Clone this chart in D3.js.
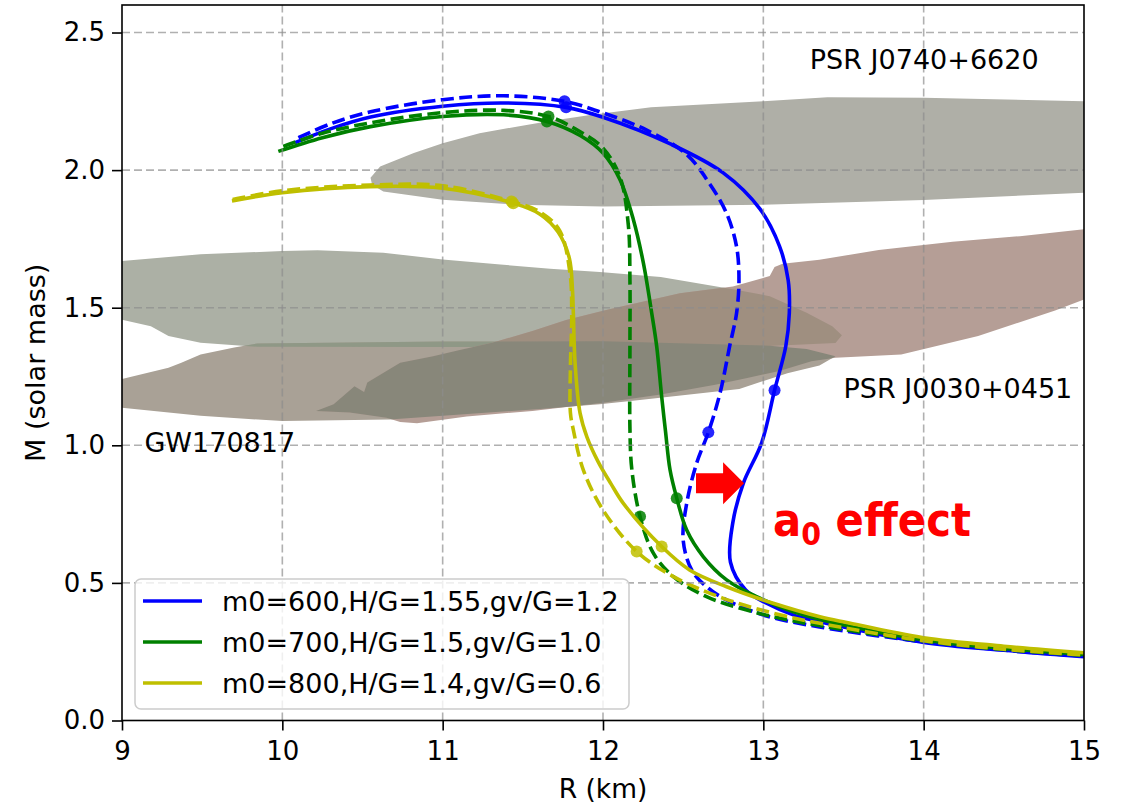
<!DOCTYPE html>
<html>
<head>
<meta charset="utf-8">
<script src="https://cdn.jsdelivr.net/npm/d3@7"></script>
<style>
  body { margin: 0; background: #fff; }
  text { font-family: "DejaVu Sans", sans-serif; }
</style>
</head>
<body>
<svg id="chart" width="1124" height="806"></svg>
<script>
const W = 1124, H = 806;
const margin = {left: 122, right: 40, top: 5, bottom: 85.5};

const xTicks = [9, 10, 11, 12, 13, 14, 15];
const yTicks = [0.0, 0.5, 1.0, 1.5, 2.0, 2.5];

// M-R curves, [R km, M solar mass]
const blueSolid = [[10.08,2.100],[10.30,2.150],[10.55,2.193],[11.00,2.232],[11.38,2.244],[11.77,2.228],[12.00,2.192],[12.42,2.095],[12.75,1.990],[12.98,1.858],[13.10,1.725],[13.155,1.600],[13.162,1.480],[13.14,1.360],[13.07,1.200],[12.99,1.010],[12.875,0.862],[12.81,0.720],[12.795,0.575],[12.89,0.474],[13.02,0.426],[13.19,0.383],[13.50,0.340],[14.00,0.284],[14.50,0.255],[15.00,0.232]];
const blueDashed = [[10.10,2.118],[10.30,2.168],[10.55,2.212],[11.00,2.256],[11.38,2.270],[11.76,2.250],[12.00,2.208],[12.27,2.146],[12.52,2.058],[12.66,1.955],[12.77,1.844],[12.833,1.722],[12.848,1.600],[12.833,1.480],[12.79,1.360],[12.73,1.190],[12.657,1.047],[12.584,0.935],[12.522,0.789],[12.50,0.656],[12.553,0.547],[12.646,0.486],[12.77,0.438],[13.02,0.380],[13.35,0.340],[14.00,0.286],[14.50,0.256],[15.00,0.234]];
const greenSolid = [[9.975,2.068],[10.25,2.118],[10.55,2.158],[11.00,2.195],[11.38,2.201],[11.65,2.177],[11.86,2.125],[12.00,2.062],[12.106,1.965],[12.19,1.819],[12.252,1.662],[12.304,1.480],[12.335,1.359],[12.366,1.177],[12.39,1.050],[12.418,0.911],[12.46,0.808],[12.522,0.692],[12.626,0.595],[12.771,0.511],[12.958,0.450],[13.188,0.395],[13.50,0.347],[14.00,0.293],[14.50,0.262],[15.00,0.240]];
const greenDashed = [[10.006,2.086],[10.25,2.134],[10.55,2.172],[11.00,2.209],[11.38,2.217],[11.66,2.195],[11.85,2.142],[12.00,2.080],[12.106,1.975],[12.158,1.800],[12.168,1.600],[12.168,1.360],[12.168,1.060],[12.18,0.911],[12.231,0.741],[12.314,0.608],[12.439,0.523],[12.646,0.450],[12.937,0.395],[13.27,0.353],[14.00,0.289],[14.50,0.258],[15.00,0.237]];
const yellowSolid = [[9.686,1.888],[10.00,1.918],[10.547,1.940],[11.00,1.934],[11.44,1.880],[11.607,1.840],[11.72,1.775],[11.79,1.680],[11.81,1.560],[11.815,1.480],[11.826,1.298],[11.857,1.117],[11.90,1.030],[11.97,0.940],[12.05,0.860],[12.127,0.789],[12.366,0.632],[12.54,0.547],[12.771,0.486],[13.062,0.426],[13.353,0.377],[13.52,0.356],[14.00,0.301],[14.50,0.270],[15.00,0.246]];
const yellowDashed = [[9.69,1.893],[10.00,1.925],[10.547,1.946],[11.00,1.943],[11.43,1.886],[11.607,1.848],[11.73,1.780],[11.794,1.626],[11.805,1.480],[11.797,1.286],[11.797,1.117],[11.815,1.056],[11.877,0.911],[12.00,0.765],[12.21,0.614],[12.439,0.523],[12.75,0.444],[13.062,0.390],[13.353,0.353],[14.00,0.290],[14.50,0.259],[15.00,0.238]];

// marked points on each curve
const blueSolidDots = [[11.77,2.228],[13.07,1.200]];
const blueDashedDots = [[11.76,2.250],[12.657,1.047]];
const greenSolidDots = [[11.65,2.177],[12.46,0.808]];
const greenDashedDots = [[11.66,2.195],[12.231,0.741]];
const yellowSolidDots = [[11.44,1.880],[12.366,0.632]];
const yellowDashedDots = [[11.43,1.886],[12.21,0.614]];

const legendLabels = ["m0=600,H/G=1.55,gv/G=1.2", "m0=700,H/G=1.5,gv/G=1.0", "m0=800,H/G=1.4,gv/G=0.6"];
const legendColors = ["#0000ff", "#008000", "#bfbf00"];

// observational constraint regions
const j0740 = [[10.55,1.972],[10.61,2.013],[10.82,2.062],[11.0,2.098],[11.23,2.134],[11.46,2.158],[11.65,2.177],[11.92,2.200],[12.3,2.228],[13.0,2.250],[13.4,2.265],[14.0,2.263],[15.0,2.250],[15.3,2.245],[15.3,1.925],[15.0,1.918],[14.0,1.891],[13.0,1.874],[12.0,1.868],[11.46,1.874],[11.0,1.892],[10.63,1.922],[10.56,1.947]];
const gwUpper = [[8.8,1.66],[9.0,1.67],[9.49,1.694],[10.0,1.706],[10.22,1.709],[10.63,1.700],[11.0,1.675],[11.36,1.657],[11.67,1.642],[11.98,1.630],[12.36,1.612],[12.81,1.567],[13.04,1.542],[13.27,1.482],[13.43,1.433],[13.49,1.400],[13.45,1.372],[13.0,1.360],[12.0,1.357],[11.0,1.357],[9.845,1.358],[9.49,1.373],[9.29,1.397],[9.18,1.433],[8.99,1.458],[8.8,1.47]];
const gwLower = [[8.8,1.22],[8.99,1.24],[9.29,1.282],[9.37,1.30],[9.49,1.33],[9.70,1.355],[9.845,1.370],[11.0,1.377],[12.0,1.378],[13.04,1.362],[13.27,1.350],[13.45,1.324],[13.35,1.290],[13.15,1.262],[12.85,1.205],[12.23,1.165],[11.98,1.149],[11.607,1.132],[11.0,1.107],[10.67,1.094],[10.0,1.088],[9.49,1.107],[8.99,1.137],[8.8,1.14]];
const j0030 = [[10.21,1.125],[10.32,1.149],[10.45,1.215],[10.51,1.194],[10.53,1.228],[10.735,1.300],[10.94,1.324],[11.1,1.345],[11.31,1.373],[11.56,1.415],[11.77,1.455],[12.02,1.492],[12.48,1.553],[12.81,1.577],[13.04,1.615],[13.07,1.648],[13.12,1.660],[13.35,1.674],[13.72,1.710],[14.18,1.740],[14.6,1.760],[15.0,1.785],[15.3,1.80],[15.3,1.52],[15.0,1.530],[14.82,1.490],[14.34,1.397],[13.86,1.330],[13.45,1.318],[13.3,1.305],[13.1,1.270],[12.9,1.245],[12.7,1.220],[12.36,1.185],[12.0,1.155],[11.56,1.125],[11.15,1.105],[10.84,1.080],[10.735,1.085],[10.65,1.100],[10.42,1.119]];

const textLabels = [
  {text: "PSR J0740+6620", at: [13.29, 2.367]},
  {text: "PSR J0030+0451", at: [13.50, 1.173]},
  {text: "GW170817", at: [9.14, 0.976]}
];
const effectAt = [13.06, 0.670];
const arrowFrom = [12.58, 0.862], arrowTo = [12.88, 0.862];

const svg = d3.select("#chart");
const x = d3.scaleLinear().domain([9, 15]).range([margin.left, W - margin.right]);
const y = d3.scaleLinear().domain([0, 2.6]).range([H - margin.bottom, margin.top]);

const defs = svg.append("defs");
defs.append("clipPath").attr("id", "plot").append("rect")
  .attr("x", x(9)).attr("y", y(2.6)).attr("width", x(15) - x(9)).attr("height", y(0) - y(2.6));

const poly = d3.line().x(d => x(d[0])).y(d => y(d[1]));
const polyPath = d => poly(d) + "Z";

["gwUpperClip", "gwLowerClip"].forEach((id, i) => {
  defs.append("clipPath").attr("id", id).append("path").attr("d", polyPath(i ? gwLower : gwUpper));
});

const plot = svg.append("g").attr("clip-path", "url(#plot)");

// regions
plot.append("path").attr("d", polyPath(j0740)).attr("fill", "#afafa7");
plot.append("path").attr("d", polyPath(gwUpper)).attr("fill", "#acb0a5");
plot.append("path").attr("d", polyPath(gwLower)).attr("fill", "#a9a196");
plot.append("g").attr("clip-path", "url(#gwUpperClip)")
  .append("path").attr("d", polyPath(gwLower)).attr("fill", "#8f9886");
plot.append("path").attr("d", polyPath(j0030)).attr("fill", "#b59e96");
plot.append("g").attr("clip-path", "url(#gwUpperClip)")
  .append("path").attr("d", polyPath(j0030)).attr("fill", "#9f8f80");
plot.append("g").attr("clip-path", "url(#gwLowerClip)")
  .append("path").attr("d", polyPath(j0030)).attr("fill", "#88877a");

// grid
const grid = svg.append("g").attr("stroke", "#8c8c8c").attr("stroke-opacity", 0.69)
  .attr("stroke-width", 1.6).attr("stroke-dasharray", "8,4");
grid.selectAll(".gx").data(xTicks.slice(1, -1)).enter().append("line")
  .attr("x1", d => x(d)).attr("x2", d => x(d)).attr("y1", y(0)).attr("y2", y(2.6));
grid.selectAll(".gy").data(yTicks.slice(1)).enter().append("line")
  .attr("x1", x(9)).attr("x2", x(15)).attr("y1", d => y(d)).attr("y2", d => y(d));

// curves
const series = [
  {pts: blueSolid, dots: blueSolidDots, color: legendColors[0], dash: null},
  {pts: blueDashed, dots: blueDashedDots, color: legendColors[0], dash: "13,5.5"},
  {pts: greenSolid, dots: greenSolidDots, color: legendColors[1], dash: null},
  {pts: greenDashed, dots: greenDashedDots, color: legendColors[1], dash: "13,5.5"},
  {pts: yellowSolid, dots: yellowSolidDots, color: legendColors[2], dash: null},
  {pts: yellowDashed, dots: yellowDashedDots, color: legendColors[2], dash: "13,5.5"}
];
const curve = d3.line().x(d => x(d[0])).y(d => y(d[1])).curve(d3.curveCatmullRom.alpha(0.5));
series.forEach(s => {
  plot.append("path").attr("d", curve(s.pts)).attr("fill", "none")
    .attr("stroke", s.color).attr("stroke-width", 3.6)
    .attr("stroke-dasharray", s.dash);
  plot.selectAll(null).data(s.dots).enter().append("circle")
    .attr("cx", d => x(d[0])).attr("cy", d => y(d[1])).attr("r", 6)
    .attr("fill", s.color).attr("fill-opacity", 0.85);
});

// arrow
{
  const x0 = x(arrowFrom[0]), x1 = x(arrowTo[0]), yc = y(arrowFrom[1]);
  const hl = 21, hw = 21, tw = 10;
  plot.append("path")
    .attr("d", `M${x0},${yc - tw}L${x1 - hl},${yc - tw}L${x1 - hl},${yc - hw}L${x1},${yc}L${x1 - hl},${yc + hw}L${x1 - hl},${yc + tw}L${x0},${yc + tw}Z`)
    .attr("fill", "#ff0000");
}

// text labels
svg.selectAll(".lab").data(textLabels).enter().append("text")
  .attr("x", d => x(d.at[0])).attr("y", d => y(d.at[1]))
  .attr("font-size", 27).attr("fill", "#000").text(d => d.text);

// a0 effect, squeezed a little to get the narrow bold look
const eff = svg.append("text")
  .attr("transform", `translate(${x(effectAt[0])},${y(effectAt[1])}) scale(0.89,1)`)
  .attr("font-family", "'Noto Sans', sans-serif").attr("font-weight", "bold")
  .attr("font-size", 47).attr("fill", "#ff0000");
eff.append("tspan").text("a");
eff.append("tspan").attr("font-size", 32).attr("dy", 9).text("0");
eff.append("tspan").attr("dy", -9).text(" effect");

// axes
const xAxis = d3.axisBottom(x).tickValues(xTicks).tickFormat(d3.format("d")).tickSize(10).tickPadding(11);
const yAxis = d3.axisLeft(y).tickValues(yTicks).tickFormat(d3.format(".1f")).tickSize(10).tickPadding(7);
const gx = svg.append("g").attr("transform", `translate(0,${y(0)})`).call(xAxis);
const gy = svg.append("g").attr("transform", `translate(${x(9)},0)`).call(yAxis);
[gx, gy].forEach(g => {
  g.select(".domain").remove();
  g.selectAll(".tick line").attr("stroke", "#000").attr("stroke-width", 1.6);
  g.selectAll(".tick text").attr("font-size", 26).attr("fill", "#000")
    .attr("font-family", "'DejaVu Sans', sans-serif");
});
svg.append("rect").attr("x", x(9)).attr("y", y(2.6)).attr("width", x(15) - x(9)).attr("height", y(0) - y(2.6))
  .attr("fill", "none").attr("stroke", "#000").attr("stroke-width", 1.6);

svg.append("text").attr("x", (x(9) + x(15)) / 2).attr("y", 798).attr("text-anchor", "middle")
  .attr("font-size", 26.5).text("R (km)");
svg.append("text").attr("transform", `translate(45,${(y(0) + y(2.6)) / 2}) rotate(-90)`)
  .attr("text-anchor", "middle").attr("font-size", 27).text("M (solar mass)");

// legend
const lg = svg.append("g");
lg.append("rect").attr("x", 135).attr("y", 579).attr("width", 494).attr("height", 130).attr("rx", 6)
  .attr("fill", "#fff").attr("fill-opacity", 0.8).attr("stroke", "#cccccc").attr("stroke-width", 1.5);
legendLabels.forEach((t, i) => {
  const yy = 601 + i * 41;
  lg.append("line").attr("x1", 143).attr("x2", 202).attr("y1", yy).attr("y2", yy)
    .attr("stroke", legendColors[i]).attr("stroke-width", 3.6);
  lg.append("text").attr("x", 222).attr("y", yy + 9.5).attr("font-size", 27).text(t);
});
</script>
</body>
</html>
